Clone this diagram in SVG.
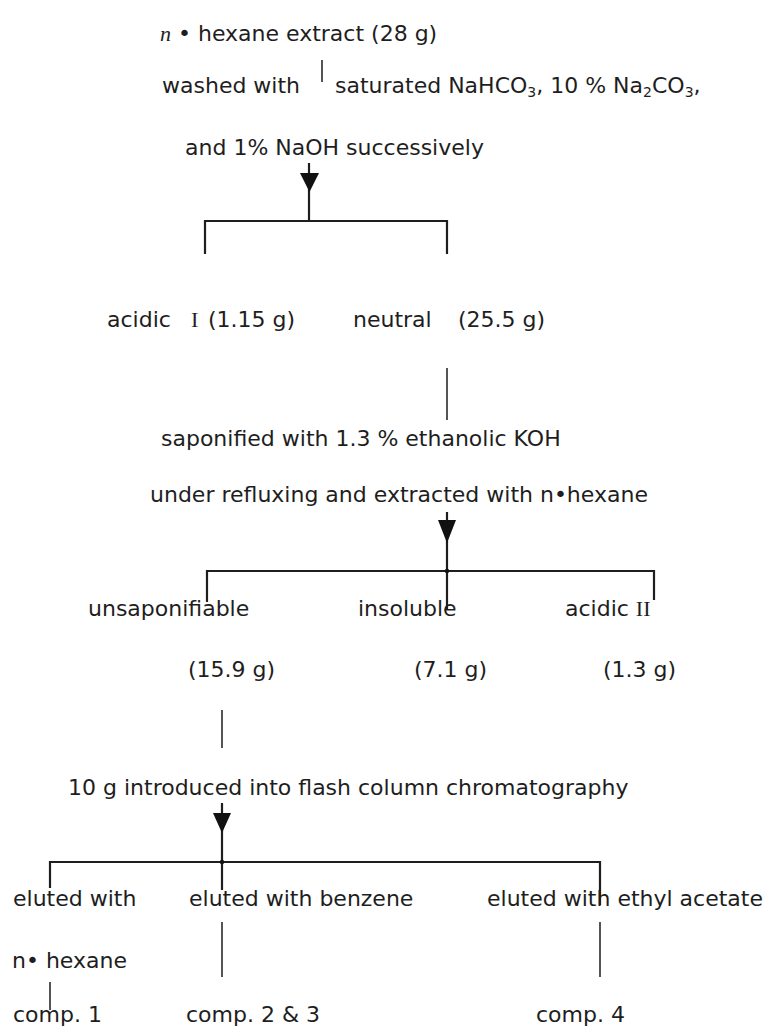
<svg xmlns="http://www.w3.org/2000/svg" width="764" height="1028" viewBox="0 0 764 1028">
  <style>
    text { font-family: "DejaVu Sans", Verdana, sans-serif; font-size: 22px; fill: #1e1e1e; }
    .roman { font-family: "Liberation Serif", "Times New Roman", serif; }
    .it { font-family: "Liberation Serif", "Times New Roman", serif; font-style: italic; }
    .sub { font-size: 14px; }
    .ln { stroke: #1e1e1e; stroke-width: 2.2; fill: none; }
    .thin { stroke: #2a2a2a; stroke-width: 1.6; fill: none; }
    .head { fill: #111; }
  </style>
  <rect width="764" height="1028" fill="#fff"/>

  <!-- flow connectors: stems, arrowheads and split brackets -->
  <g id="connectors">
    <line class="thin" x1="322" y1="60" x2="322" y2="82"/>
    <line class="ln" x1="309" y1="163" x2="309" y2="221"/>
    <polygon class="head" points="300,173 319,173 309.5,192"/>
    <path class="ln" d="M205,254 V221 H447 V254"/>

    <line class="thin" x1="447" y1="368" x2="447" y2="420"/>

    <line class="ln" x1="447" y1="512" x2="447" y2="571"/>
    <polygon class="head" points="438,520 456,520 447,543"/>
    <path class="ln" d="M207,602 V571 H654 V600"/>
    <line class="ln" x1="447" y1="571" x2="447" y2="610"/>
    <circle cx="447" cy="571" r="2.2" fill="#111"/>

    <line class="thin" x1="222" y1="710" x2="222" y2="748"/>

    <line class="ln" x1="222" y1="803" x2="222" y2="862"/>
    <polygon class="head" points="213,813 231,813 222,833"/>
    <path class="ln" d="M50,888 V862 H600 V905"/>
    <line class="ln" x1="222" y1="862" x2="222" y2="890"/>
    <circle cx="222" cy="862" r="2.2" fill="#111"/>

    <line class="thin" x1="222" y1="922" x2="222" y2="977"/>
    <line class="thin" x1="600" y1="922" x2="600" y2="977"/>
    <line class="thin" x1="50" y1="982" x2="50" y2="1010"/>
  </g>

  <g id="extract">
    <text x="160" y="41"><tspan class="it">n</tspan> • hexane extract (28 g)</text>
  </g>
  <g id="wash-step">
    <text x="162" y="93">washed with</text>
    <text x="335" y="93">saturated NaHCO<tspan class="sub" dy="4">3</tspan><tspan dy="-4">, 10 % Na</tspan><tspan class="sub" dy="4">2</tspan><tspan dy="-4">CO</tspan><tspan class="sub" dy="4">3</tspan><tspan dy="-4">,</tspan></text>
    <text x="185" y="155">and 1% NaOH successively</text>
  </g>
  <g id="acidic-1">
    <text x="107" y="327">acidic <tspan class="roman" x="191">I</tspan><tspan x="208">(1.15 g)</tspan></text>
  </g>
  <g id="neutral">
    <text x="353" y="327">neutral <tspan x="458">(25.5 g)</tspan></text>
  </g>
  <g id="saponify-step">
    <text x="161" y="446">saponified with 1.3 % ethanolic KOH</text>
    <text x="150" y="502">under refluxing and extracted with n•hexane</text>
  </g>
  <g id="unsaponifiable">
    <text x="88" y="616">unsaponifiable</text>
    <text x="188" y="677">(15.9 g)</text>
  </g>
  <g id="insoluble">
    <text x="358" y="616">insoluble</text>
    <text x="414" y="677">(7.1 g)</text>
  </g>
  <g id="acidic-2">
    <text x="565" y="616">acidic <tspan class="roman">II</tspan></text>
    <text x="603" y="677">(1.3 g)</text>
  </g>
  <g id="column-step">
    <text x="68" y="795">10 g introduced into flash column chromatography</text>
  </g>
  <g id="hexane-fraction">
    <text x="13" y="906">eluted with</text>
    <text x="12" y="968">n• hexane</text>
    <text x="13" y="1022">comp. 1</text>
  </g>
  <g id="benzene-fraction">
    <text x="189" y="906">eluted with benzene</text>
    <text x="186" y="1022">comp. 2 &amp; 3</text>
  </g>
  <g id="acetate-fraction">
    <text x="487" y="906">eluted with ethyl acetate</text>
    <text x="536" y="1022">comp. 4</text>
  </g>
</svg>
